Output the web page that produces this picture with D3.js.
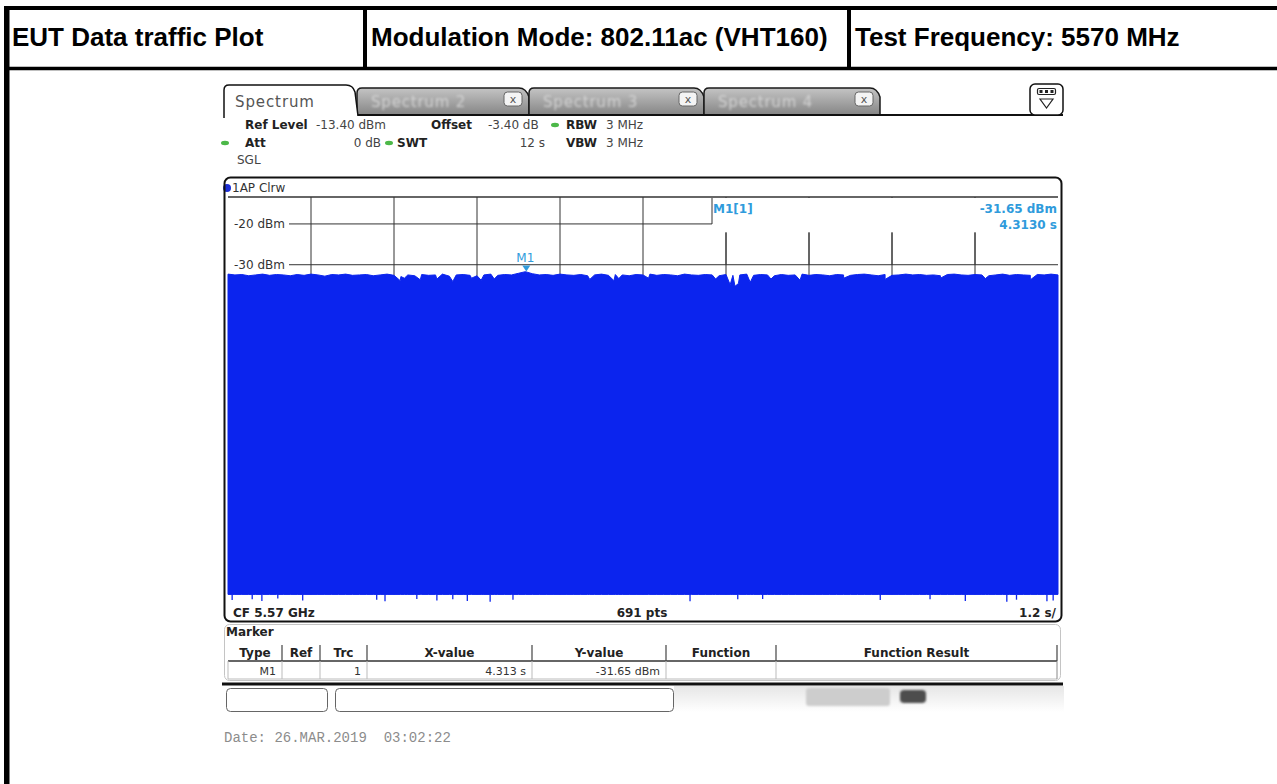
<!DOCTYPE html>
<html>
<head>
<meta charset="utf-8">
<script src="https://cdn.jsdelivr.net/npm/d3@7"></script>
<style>
  html, body { margin: 0; padding: 0; background: #fff; }
  svg { display: block; }
</style>
</head>
<body>
<svg id="chart"></svg>
<script>
// ---- data ----
const headerCells = ["EUT Data traffic Plot", "Modulation Mode: 802.11ac (VHT160)", "Test Frequency: 5570 MHz"];
const tabNames = ["Spectrum", "Spectrum 2", "Spectrum 3", "Spectrum 4"];

const refLevel = -13.4;      // dBm, top of grid
const rangeDb = 100;         // 10 dB / div
const sweepTime = 12;        // s, zero span
const timeDivs = [0, 1.2, 2.4, 3.6, 4.8, 6.0, 7.2, 8.4, 9.6, 10.8, 12];
const levelTicks = [-20, -30];

// upper envelope of the trace, one value every 0.1 s (dBm)
const upperTrace = [
  -32.3, -32.5, -32.4, -32.7, -32.5, -32.3, -32.6, -32.4, -32.5, -32.7,
  -32.4, -32.6, -32.3, -32.5, -32.8, -32.4, -32.5, -32.3, -32.6, -32.5,
  -32.4, -32.7, -32.5, -32.3, -32.6, -32.9, -32.5, -32.7, -32.4, -32.6,
  -32.5, -32.3, -32.8, -32.5, -32.4, -32.6, -32.7, -32.5, -32.3, -32.6,
  -32.4, -32.5, -32.1, -31.7, -32.2, -32.5, -32.4, -32.6, -32.3, -32.5,
  -32.6, -32.4, -32.7, -32.5, -32.3, -32.6, -32.4, -32.5, -32.7, -32.4,
  -32.5, -32.3, -32.6, -32.4, -32.5, -32.7, -32.3, -32.5, -32.6, -32.4,
  -32.5, -32.7, -32.4, -32.6, -32.5, -32.3, -32.6, -32.4, -32.5, -32.7,
  -32.4, -32.6, -32.5, -32.3, -32.6, -32.4, -32.5, -32.7, -32.4, -32.5,
  -32.6, -32.4, -32.3, -32.5, -32.7, -32.4, -32.6, -32.5, -32.3, -32.5,
  -32.4, -32.6, -32.5, -32.7, -32.4, -32.3, -32.5, -32.6, -32.4, -32.5,
  -32.7, -32.5, -32.3, -32.6, -32.4, -32.5, -32.6, -32.4, -32.5, -32.3, -32.5
];
// narrow dips in the upper envelope [time s, dBm]
const traceDips = [
  [2.49, -33.9], [2.55, -33.3], [2.78, -33.7], [3.02, -33.5], [3.25, -34.1],
  [3.52, -33.3], [3.66, -33.8], [3.85, -33.5], [5.23, -33.6], [5.58, -33.9],
  [5.65, -33.4], [6.08, -33.3], [7.05, -33.5], [7.26, -34.9], [7.33, -35.3],
  [7.38, -34.6], [7.55, -34.3], [7.85, -33.5], [8.27, -33.8], [8.90, -33.3],
  [9.50, -33.6], [10.30, -33.3], [10.95, -33.4], [11.60, -33.7]
];
// lower envelope: flat floor with a few deeper points [time s, dBm]
const floorLevel = -110.8;
const floorSpikes = [
  [0.06, -112.2], [0.35, -112.0], [0.49, -112.4], [0.72, -111.8], [1.08, -112.3],
  [2.15, -112.1], [2.27, -112.5], [2.73, -111.9], [3.02, -112.3], [3.25, -112.0],
  [3.46, -112.4], [3.79, -112.6], [4.12, -112.1], [6.68, -112.5], [7.37, -112.0],
  [7.73, -111.9], [9.43, -112.2], [10.15, -112.0], [10.66, -112.4], [11.26, -112.6],
  [11.40, -112.1], [11.84, -112.5], [11.93, -112.3]
];

const markerTime = 4.313;
const markerLevel = -31.65;
const markerColumns = ["Type", "Ref", "Trc", "X-value", "Y-value", "Function", "Function Result"];
const markerRow = ["M1", "", "1", "4.313 s", "-31.65 dBm", "", ""];
const dateStamp = "Date: 26.MAR.2019  03:02:22";

// ---- drawing ----
const W = 1277, H = 784;
const svg = d3.select("#chart").attr("width", W).attr("height", H);
svg.append("rect").attr("width", W).attr("height", H).attr("fill", "#fff");
const defs = svg.append("defs");
defs.append("filter").attr("id", "soft").append("feGaussianBlur").attr("stdDeviation", 0.8);

const UI = "DejaVu Sans, Verdana, sans-serif";
const TRACE = "#0b24ee";
const MARK = "#2f9bdc";

// header table
function drawHeader() {
  const g = svg.append("g");
  const cellX = [12, 371, 855];
  g.selectAll("text.hdr").data(headerCells).enter().append("text")
    .attr("x", (d, i) => cellX[i]).attr("y", 46)
    .attr("font-family", "Liberation Sans, Arial, sans-serif")
    .attr("font-weight", "bold").attr("font-size", 26).attr("fill", "#000")
    .text(d => d);
  g.append("line").attr("x1", 4).attr("x2", W).attr("y1", 8).attr("y2", 8)
    .attr("stroke", "#000").attr("stroke-width", 4);
  g.append("line").attr("x1", 4).attr("x2", W).attr("y1", 68.5).attr("y2", 68.5)
    .attr("stroke", "#000").attr("stroke-width", 3.5);
  g.append("line").attr("x1", 6.75).attr("x2", 6.75).attr("y1", 6).attr("y2", H)
    .attr("stroke", "#000").attr("stroke-width", 5.5);
  [365, 849].forEach(x => g.append("line").attr("x1", x).attr("x2", x)
    .attr("y1", 8).attr("y2", 68).attr("stroke", "#000").attr("stroke-width", 4));
}

function drawTabs() {
  const grad = defs.append("linearGradient").attr("id", "tabGrad")
    .attr("x1", 0).attr("x2", 0).attr("y1", 0).attr("y2", 1);
  grad.append("stop").attr("offset", "0%").attr("stop-color", "#c4c4c4");
  grad.append("stop").attr("offset", "100%").attr("stop-color", "#858585");

  const g = svg.append("g");
  const tabEdges = [224, 357, 529, 704, 880];
  // inactive tabs first
  tabNames.slice(1).forEach((name, k) => {
    const x0 = tabEdges[k + 1], x1 = tabEdges[k + 2];
    g.append("path")
      .attr("d", `M${x0},115 L${x0},93 Q${x0},88 ${x0 + 5},88 L${x1 - 10},88 Q${x1 - 3},88 ${x1},97 L${x1},115 Z`)
      .attr("fill", "url(#tabGrad)").attr("stroke", "#1a1a1a").attr("stroke-width", 1.5);
    g.append("text").attr("x", x0 + 14).attr("y", 107)
      .attr("font-family", UI).attr("font-size", 15).attr("letter-spacing", 0.8).attr("fill", "#d2d2d2")
      .attr("filter", "url(#soft)").text(name);
    g.append("rect").attr("x", x1 - 25).attr("y", 92).attr("width", 18).attr("height", 14)
      .attr("rx", 3.5).attr("fill", "#f4f4f4").attr("stroke", "#666");
    g.append("text").attr("x", x1 - 16).attr("y", 103).attr("text-anchor", "middle")
      .attr("font-family", UI).attr("font-size", 11).attr("fill", "#555").text("x");
  });
  g.append("line").attr("x1", 357).attr("x2", 1063).attr("y1", 115).attr("y2", 115)
    .attr("stroke", "#111").attr("stroke-width", 2);
  // active tab
  g.append("path")
    .attr("d", "M224,118 L224,90 Q224,85 229,85 L346,85 Q353,85 355,92 L358,116")
    .attr("fill", "#fff").attr("stroke", "#111").attr("stroke-width", 1.5);
  g.append("text").attr("x", 235).attr("y", 107)
    .attr("font-family", UI).attr("font-size", 15).attr("letter-spacing", 0.9)
    .attr("fill", "#555").text(tabNames[0]);

  // menu icon at the right
  g.append("rect").attr("x", 1030).attr("y", 84).attr("width", 33).attr("height", 31)
    .attr("rx", 5).attr("fill", "#fff").attr("stroke", "#111").attr("stroke-width", 1.5);
  g.append("rect").attr("x", 1037.5).attr("y", 88.5).attr("width", 18).attr("height", 6)
    .attr("rx", 1.5).attr("fill", "#fff").attr("stroke", "#222").attr("stroke-width", 1.2);
  [1041, 1046.5, 1052].forEach(cx => g.append("rect").attr("x", cx - 1.5).attr("y", 90)
    .attr("width", 3).attr("height", 3).attr("fill", "#222"));
  g.append("path").attr("d", "M1040,99 L1053,99 L1046.5,108 Z")
    .attr("fill", "none").attr("stroke", "#222").attr("stroke-width", 1.2);
}

function drawSettings() {
  const g = svg.append("g").attr("font-family", UI).attr("font-size", 12);
  const items = [
    { x: 245, y: 129, t: "Ref Level", b: true }, { x: 316, y: 129, t: "-13.40 dBm" },
    { x: 431, y: 129, t: "Offset", b: true }, { x: 488, y: 129, t: "-3.40 dB" },
    { x: 566, y: 129, t: "RBW", b: true }, { x: 606, y: 129, t: "3 MHz" },
    { x: 245, y: 147, t: "Att", b: true }, { x: 381, y: 147, t: "0 dB", end: true },
    { x: 397, y: 147, t: "SWT", b: true }, { x: 545, y: 147, t: "12 s", end: true },
    { x: 566, y: 147, t: "VBW", b: true }, { x: 606, y: 147, t: "3 MHz" },
    { x: 237, y: 164, t: "SGL" }
  ];
  g.selectAll("text").data(items).enter().append("text")
    .attr("x", d => d.x).attr("y", d => d.y)
    .attr("text-anchor", d => d.end ? "end" : "start")
    .attr("font-weight", d => d.b ? "bold" : "normal")
    .attr("fill", d => d.b ? "#222" : "#444").text(d => d.t);
  [[555, 125], [225, 143], [389, 143]].forEach(p => g.append("ellipse")
    .attr("cx", p[0]).attr("cy", p[1]).attr("rx", 4).attr("ry", 2.2).attr("fill", "#4cb848"));
}

function drawDiagram() {
  const x = d3.scaleLinear().domain([0, sweepTime]).range([228, 1058]);
  const y = d3.scaleLinear().domain([refLevel, refLevel - rangeDb]).range([197, 605]);
  const g = svg.append("g");

  // trace label
  g.append("circle").attr("cx", 227).attr("cy", 188).attr("r", 4).attr("fill", "#1d2fd6");
  g.append("text").attr("x", 232).attr("y", 192).attr("font-family", UI).attr("font-size", 12)
    .attr("fill", "#333").text("1AP Clrw");

  // grid
  g.append("line").attr("x1", 228).attr("x2", 1058).attr("y1", y(refLevel)).attr("y2", y(refLevel))
    .attr("stroke", "#333").attr("stroke-width", 1.3);
  g.selectAll("line.vgrid").data(timeDivs.slice(1, -1)).enter().append("line")
    .attr("x1", d => x(d)).attr("x2", d => x(d)).attr("y1", y(refLevel)).attr("y2", y(floorLevel))
    .attr("stroke", "#333").attr("stroke-width", 1);
  const tick = g.selectAll("g.ytick").data(levelTicks).enter().append("g");
  tick.append("line").attr("x1", 289).attr("x2", 1058)
    .attr("y1", d => y(d)).attr("y2", d => y(d)).attr("stroke", "#333").attr("stroke-width", 1);
  tick.append("rect").attr("x", 229).attr("y", d => y(d) - 8).attr("width", 60).attr("height", 16)
    .attr("fill", "#fff");
  tick.append("text").attr("x", 234).attr("y", d => y(d) + 4)
    .attr("font-family", UI).attr("font-size", 12).attr("fill", "#333").text(d => `${d} dBm`);

  // trace: upper envelope plus dips, filled down to the floor
  const pts = upperTrace.map((v, i) => [i * sweepTime / (upperTrace.length - 1), v])
    .concat(traceDips).sort((a, b) => a[0] - b[0]);
  const area = d3.area().x(d => x(d[0])).y0(y(floorLevel)).y1(d => y(d[1]));
  g.append("path").attr("d", area(pts)).attr("fill", TRACE)
    .attr("stroke", TRACE).attr("stroke-width", 1);
  g.selectAll("line.spike").data(floorSpikes).enter().append("line")
    .attr("x1", d => x(d[0])).attr("x2", d => x(d[0]))
    .attr("y1", y(floorLevel)).attr("y2", d => y(d[1]))
    .attr("stroke", TRACE).attr("stroke-width", 1.3);

  // marker M1
  const mx = x(markerTime), my = y(markerLevel);
  g.append("path").attr("d", `M${mx - 4},${my - 6} L${mx + 4},${my - 6} L${mx},${my} Z`).attr("fill", MARK);
  g.append("text").attr("x", mx - 1).attr("y", my - 9).attr("text-anchor", "middle")
    .attr("font-family", UI).attr("font-size", 12).attr("fill", MARK).text("M1");

  // marker info box
  g.append("rect").attr("x", 712).attr("y", 198).attr("width", 346).attr("height", 34).attr("fill", "#fff");
  g.append("line").attr("x1", 712).attr("x2", 712).attr("y1", 198).attr("y2", 224).attr("stroke", "#333");
  const info = g.append("g").attr("font-family", UI).attr("font-size", 12)
    .attr("font-weight", "bold").attr("fill", MARK);
  info.append("text").attr("x", 713).attr("y", 213).text("M1[1]");
  info.append("text").attr("x", 1057).attr("y", 213).attr("text-anchor", "end").text(`${markerLevel.toFixed(2)} dBm`);
  info.append("text").attr("x", 1057).attr("y", 229).attr("text-anchor", "end").text(`${markerTime.toFixed(4)} s`);
  g.selectAll("line.vgrid2").data(timeDivs.filter(t => x(t) > 712 && t < sweepTime)).enter().append("line")
    .attr("x1", d => x(d)).attr("x2", d => x(d)).attr("y1", 233).attr("y2", y(-30))
    .attr("stroke", "#333").attr("stroke-width", 1);

  // bottom status row of the diagram
  g.append("rect").attr("x", 226).attr("y", 606).attr("width", 834).attr("height", 14).attr("fill", "#fff");
  const foot = g.append("g").attr("font-family", UI).attr("font-size", 12).attr("font-weight", "bold").attr("fill", "#222");
  foot.append("text").attr("x", 233).attr("y", 617).text("CF 5.57 GHz");
  foot.append("text").attr("x", 642).attr("y", 617).attr("text-anchor", "middle").text(`${691} pts`);
  foot.append("text").attr("x", 1056).attr("y", 617).attr("text-anchor", "end").text(`${timeDivs[1]} s/`);

  // diagram frame
  g.append("rect").attr("x", 224.5).attr("y", 177.5).attr("width", 837).attr("height", 444)
    .attr("rx", 6).attr("fill", "none").attr("stroke", "#111").attr("stroke-width", 2);
}

function drawMarkerTable() {
  const g = svg.append("g").attr("font-family", UI).attr("font-size", 12);
  g.append("rect").attr("x", 224.5).attr("y", 624.5).attr("width", 836).attr("height", 56)
    .attr("rx", 5).attr("fill", "#fff").attr("stroke", "#c4c4c4");
  g.append("text").attr("x", 226).attr("y", 636).attr("font-weight", "bold").attr("fill", "#222").text("Marker");

  const colEdges = [228, 282, 320, 367, 532, 666, 776, 1057];
  g.append("line").attr("x1", 228).attr("x2", 1057).attr("y1", 661).attr("y2", 661).attr("stroke", "#333").attr("stroke-width", 1.3);
  g.append("line").attr("x1", 228).attr("x2", 1057).attr("y1", 679).attr("y2", 679).attr("stroke", "#bbb");
  g.append("line").attr("x1", 228).attr("x2", 228).attr("y1", 661).attr("y2", 679).attr("stroke", "#bbb");
  colEdges.slice(1).forEach((cx, i) => {
    g.append("line").attr("x1", cx).attr("x2", cx).attr("y1", 645).attr("y2", 661)
      .attr("stroke", "#444").attr("stroke-width", 1.2);
    g.append("line").attr("x1", cx).attr("x2", cx).attr("y1", 661).attr("y2", 679)
      .attr("stroke", i === colEdges.length - 2 ? "#888" : "#bbb");
  });
  g.selectAll("text.col").data(markerColumns).enter().append("text")
    .attr("x", (d, i) => (colEdges[i] + colEdges[i + 1]) / 2).attr("y", 657)
    .attr("text-anchor", "middle").attr("font-weight", "bold").attr("fill", "#222").text(d => d);
  g.selectAll("text.val").data(markerRow).enter().append("text")
    .attr("x", (d, i) => colEdges[i + 1] - 6).attr("y", 675)
    .attr("text-anchor", "end").attr("font-size", 11).attr("fill", "#333").text(d => d);

  g.append("line").attr("x1", 222).attr("x2", 1063).attr("y1", 684).attr("y2", 684)
    .attr("stroke", "#111").attr("stroke-width", 3);
}

function drawStatusBar() {
  const g = svg.append("g");
  const fade = defs.append("linearGradient").attr("id", "fade")
    .attr("x1", 0).attr("x2", 0).attr("y1", 0).attr("y2", 1);
  fade.append("stop").attr("offset", "0%").attr("stop-color", "#e6e6e6");
  fade.append("stop").attr("offset", "100%").attr("stop-color", "#fff");
  g.append("rect").attr("x", 674).attr("y", 686).attr("width", 390).attr("height", 26).attr("fill", "url(#fade)");
  [[226, 101], [335, 338]].forEach(b => g.append("rect")
    .attr("x", b[0] + 0.5).attr("y", 688.5).attr("width", b[1]).attr("height", 23)
    .attr("rx", 4).attr("fill", "#fff").attr("stroke", "#666"));
  g.append("rect").attr("x", 806).attr("y", 688).attr("width", 84).attr("height", 18)
    .attr("rx", 3).attr("fill", "#cdcdcd").attr("filter", "url(#soft)");
  g.append("rect").attr("x", 900).attr("y", 690).attr("width", 26).attr("height", 13)
    .attr("rx", 4).attr("fill", "#4e4e4e").attr("filter", "url(#soft)");
  g.append("text").attr("x", 224).attr("y", 742)
    .attr("font-family", "Liberation Mono, Courier New, monospace").attr("font-size", 14)
    .attr("fill", "#8c8c8c").style("white-space", "pre").text(dateStamp);
}

drawHeader();
drawTabs();
drawSettings();
drawDiagram();
drawMarkerTable();
drawStatusBar();
</script>
</body>
</html>
